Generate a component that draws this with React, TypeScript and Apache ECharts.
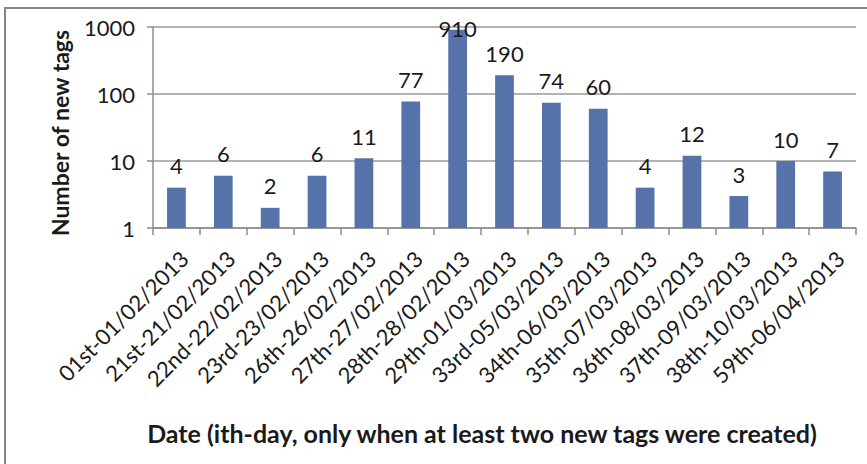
import React, { useEffect, useRef } from "react";
import * as echarts from "echarts";

const categories = [
  "01st-01/02/2013",
  "21st-21/02/2013",
  "22nd-22/02/2013",
  "23rd-23/02/2013",
  "26th-26/02/2013",
  "27th-27/02/2013",
  "28th-28/02/2013",
  "29th-01/03/2013",
  "33rd-05/03/2013",
  "34th-06/03/2013",
  "35th-07/03/2013",
  "36th-08/03/2013",
  "37th-09/03/2013",
  "38th-10/03/2013",
  "59th-06/04/2013",
];
const newTags = [4, 6, 2, 6, 11, 77, 910, 190, 74, 60, 4, 12, 3, 10, 7];

const FONT = "Lato";

export default function App() {
  const ref = useRef<HTMLDivElement>(null);
  useEffect(() => {
    if (!ref.current) return;
    const chart = echarts.init(ref.current, undefined, { renderer: "svg" });
    const maxVal = Math.max(...newTags);
    chart.setOption({
      animation: false,
      backgroundColor: "#ffffff",
      textStyle: { fontFamily: FONT },
      grid: { left: 153, right: 11, top: 27, bottom: 236, containLabel: false },
      graphic: [
        {
          type: "rect",
          shape: { x: 5, y: 8, width: 900, height: 500 },
          style: { fill: "none", stroke: "#858585", lineWidth: 2 },
          silent: true,
        },
        {
          type: "text",
          x: 482,
          y: 433,
          style: {
            text: "Date (ith-day, only when at least two new tags were created)",
            font: `bold 25px ${FONT}`,
            fill: "#1a1a1a",
            align: "center",
            verticalAlign: "middle",
          },
        },
        {
          type: "text",
          x: 60,
          y: 133,
          rotation: Math.PI / 2,
          style: {
            text: "Number of new tags",
            font: `bold 23px ${FONT}`,
            fill: "#1a1a1a",
            align: "center",
            verticalAlign: "middle",
          },
        },
      ],
      xAxis: {
        type: "category",
        data: categories,
        boundaryGap: true,
        axisLine: { lineStyle: { color: "#8c8c8c", width: 1.5 } },
        axisTick: { show: true, length: 7, alignWithLabel: false, lineStyle: { color: "#8c8c8c", width: 1.5 } },
        axisLabel: {
          interval: 0,
          rotate: 45,
          margin: 19,
          verticalAlign: "top",
          fontSize: 22,
          color: "#1a1a1a",
          fontFamily: FONT,
        },
      },
      yAxis: {
        type: "log",
        logBase: 10,
        min: 1,
        max: 1000,
        axisLine: { show: true, lineStyle: { color: "#8c8c8c", width: 1.5 } },
        axisTick: { show: true, length: 6, lineStyle: { color: "#8c8c8c", width: 1.5 } },
        minorTick: { show: false },
        splitLine: { show: true, lineStyle: { color: "#9a9a9a", width: 1.5 } },
        axisLabel: {
          fontSize: 22,
          margin: 18,
          color: "#1a1a1a",
          fontFamily: FONT,
          formatter: (v: number) => String(Math.round(v)),
        },
      },
      series: [
        {
          type: "bar",
          data: newTags.map((v) =>
            v === maxVal ? { value: v, label: { distance: -10 } } : v
          ),
          barWidth: "40%",
          itemStyle: { color: "#5572a9" },
          label: {
            show: true,
            position: "top",
            distance: 11,
            fontSize: 22,
            color: "#1a1a1a",
            fontFamily: FONT,
          },
        },
      ],
    });
    return () => chart.dispose();
  }, []);
  return (
    <div
      ref={ref}
      style={{ position: "absolute", left: 0, top: 0, width: 867, height: 464 }}
    />
  );
}
